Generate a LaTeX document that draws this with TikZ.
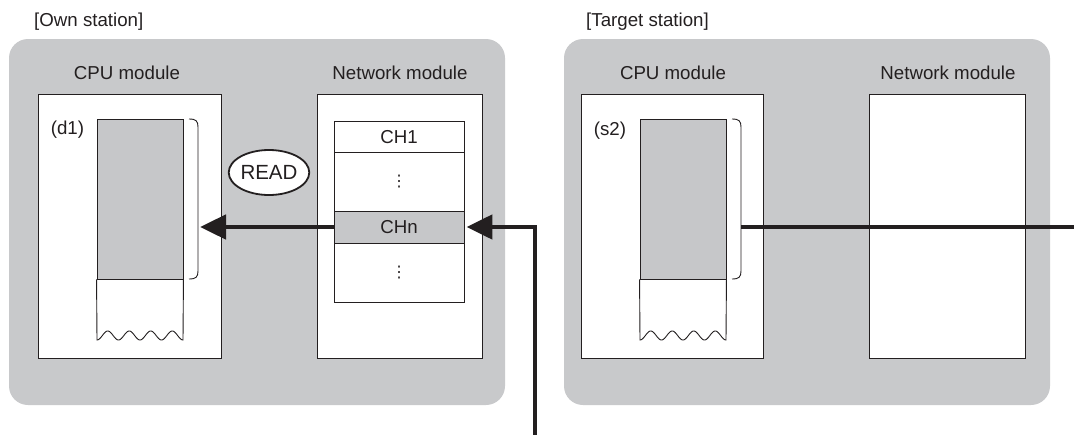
\documentclass[tikz,border=0pt]{standalone}
\usepackage{fontspec}
\setmainfont{Liberation Sans}
\newfontfamily\dejavu{DejaVu Sans}
\usetikzlibrary{arrows.meta,shapes.geometric}
\definecolor{stgray}{HTML}{C8C9CB}
\definecolor{memgray}{HTML}{C6C7C9}
\definecolor{ink}{HTML}{231F20}
\tikzset{
  station/.style={fill=stgray, draw=none, rounded corners=19pt},
  modbox/.style={draw=ink, fill=white, line width=0.9pt, inner sep=0pt},
  membox/.style={draw=ink, fill=memgray, line width=0.9pt, inner sep=0pt},
  chbox/.style={draw=ink, fill=white, line width=0.9pt, inner sep=0pt, minimum width=130pt},
  lbl/.style={font=\fontsize{18.7}{21}\selectfont, text=ink, inner sep=0pt},
  thinline/.style={draw=ink, line width=0.9pt},
  conn/.style={draw=ink, line width=4.8pt},
  arr/.style={-{Triangle[length=26pt,width=24pt]}},
  vdot/.style={font=\dejavu\fontsize{16}{16}\selectfont, text=ink, inner sep=0pt},
}
\begin{document}
\begin{tikzpicture}[x=1pt,y=-1pt]
\useasboundingbox (0,0) rectangle (1074,434);
% station backgrounds
\fill[station] (9,39) rectangle (505,405);
\fill[station] (564,39) rectangle (1050,405);
\node[lbl, anchor=base west] (own) at (34,26) {[Own station]};
\node[lbl, anchor=base west] (tgt) at (586,26) {[Target station]};
% own station modules
\node[modbox, minimum width=183pt, minimum height=264pt] (cpu1) at (129.5,226) {};
\node[modbox, minimum width=165pt, minimum height=264pt] (net1) at (399.5,226) {};
\node[lbl, anchor=base] (cpu1l) at (127,79) {CPU module};
\node[lbl, anchor=base] (net1l) at (400,79) {Network module};
% own memory
\node[membox, minimum width=86pt, minimum height=160pt] (mem1) at (140,199) {};
\draw[thinline] (mem1.south west) -- plot[domain=0:86,samples=120] ({97+\x},{335.5+4.5*cos(16.7442*\x)}) -- (mem1.south east);
\node[lbl, anchor=base] (d1) at (67.5,134) {(d1)};
\draw[thinline] (189,119) .. controls (196,119) and (198,121) .. (198,127) -- (198,271) .. controls (198,277) and (196,279) .. (189,279);
\coordinate (b1) at (200,227);
% channels
\node[chbox, minimum height=31pt] (ch1) at (399,136.5) {};
\node[lbl, anchor=base] at (ch1.center) [yshift=-6.7pt] {CH1};
\node[chbox, minimum height=59pt] (dotsa) at (399,181.5) {};
\node[vdot] at (dotsa.center) {⋮};
\node[chbox, fill=memgray, minimum height=32pt] (chn) at (399,227) {};
\node[lbl, anchor=base] at (chn.center) [yshift=-6.7pt] {CHn};
\node[chbox, minimum height=59pt] (dotsb) at (399,272.5) {};
\node[vdot] at (dotsb.center) {⋮};
% READ
\node[ellipse, draw=ink, fill=white, line width=1.8pt, minimum width=80pt, minimum height=45pt, inner sep=0pt, font=\fontsize{20.5}{22}\selectfont, text=ink] (read) at (269,172.5) {READ};
% target station modules
\node[modbox, minimum width=182pt, minimum height=264pt] (cpu2) at (672,226) {};
\node[modbox, minimum width=156pt, minimum height=264pt] (net2) at (947,226) {};
\node[lbl, anchor=base] (cpu2l) at (673,79) {CPU module};
\node[lbl, anchor=base] (net2l) at (948,79) {Network module};
\node[membox, minimum width=86pt, minimum height=160pt] (mem2) at (683,199) {};
\draw[thinline] (mem2.south west) -- plot[domain=0:86,samples=120] ({640+\x},{335.5+4.5*cos(16.7442*\x)}) -- (mem2.south east);
\node[lbl, anchor=base] (s2) at (610,135) {(s2)};
\draw[thinline] (732,119) .. controls (739,119) and (741,121) .. (741,127) -- (741,271) .. controls (741,277) and (739,279) .. (732,279);
\coordinate (b2) at (741,227);
\coordinate (redge) at (1080,227);
\coordinate (bot) at (535,440);
% connectors
\draw[conn, arr] (chn.west) -- (b1);
\draw[conn, arr] (bot) |- ([xshift=2pt]chn.east);
\draw[conn] (b2) -- (redge);
\end{tikzpicture}
\end{document}
